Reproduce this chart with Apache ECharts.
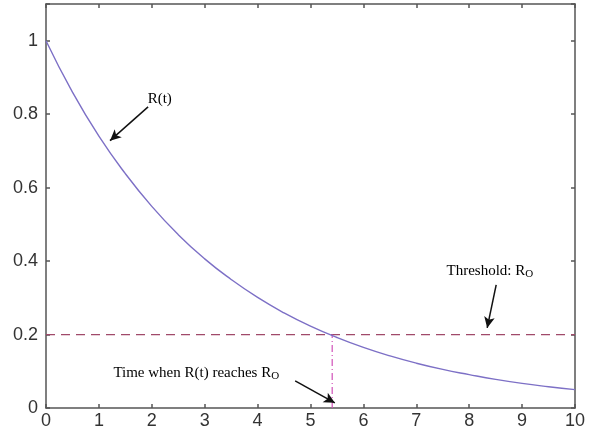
<!DOCTYPE html>
<html>
<head>
<meta charset="utf-8">
<script src="https://cdn.jsdelivr.net/npm/echarts@6/dist/echarts.min.js"></script>
<style>html,body{margin:0;padding:0;background:#fff}#c{width:590px;height:438px}</style>
</head>
<body>
<div id="c"></div>
<script>
// Values
var tValues = [0, 0.5, 1, 1.5, 2, 2.5, 3, 3.5, 4, 4.5, 5, 5.5, 6, 6.5, 7, 7.5, 8, 8.5, 9, 9.5, 10];
var rValues = [1, 0.86, 0.74, 0.638, 0.549, 0.472, 0.406, 0.35, 0.301, 0.259, 0.223, 0.192, 0.165, 0.142, 0.122, 0.105, 0.091, 0.078, 0.067, 0.058, 0.05];
var threshold = 0.2;
var crossTime = 5.41;
var xTicks = [0,1,2,3,4,5,6,7,8,9,10];
var yTicks = [0,0.2,0.4,0.6,0.8,1];

var curve = tValues.map(function (t, i) { return [t, rValues[i]]; });

var chart = echarts.init(document.getElementById('c'));
var axisLine = {show: true, onZero: false, lineStyle: {color: '#555', width: 1.5}};
var tick = {show: true, inside: true, length: 4, lineStyle: {color: '#555', width: 1.5}};
var lblFont = {fontFamily: 'Liberation Sans', fontSize: 18, color: '#333'};
var serif = 'Liberation Serif';
var arrowLine = {color: '#111', width: 1.5, type: 'solid'};

function arrow(x1, y1, x2, y2) {
  return [{coord: [x1, y1]}, {coord: [x2, y2]}];
}

chart.setOption({
  animation: false,
  grid: {left: 46, top: 4, right: 15, bottom: 30, containLabel: false},
  xAxis: [{
    type: 'value', min: 0, max: 10, interval: 1,
    axisLine: axisLine, axisTick: tick, splitLine: {show: false},
    axisLabel: Object.assign({margin: 4}, lblFont)
  }, {
    type: 'value', position: 'top', min: 0, max: 10, interval: 1,
    axisLine: axisLine, axisTick: tick, splitLine: {show: false}, axisLabel: {show: false}
  }],
  yAxis: [{
    type: 'value', min: 0, max: 1.1, interval: 0.2,
    axisLine: axisLine, axisTick: tick, splitLine: {show: false},
    axisLabel: Object.assign({margin: 8, formatter: function (v) { return v > 1.05 ? '' : String(+v.toFixed(1)); }}, lblFont)
  }, {
    type: 'value', position: 'right', min: 0, max: 1.1, interval: 0.2,
    axisLine: axisLine, axisTick: tick, splitLine: {show: false}, axisLabel: {show: false}
  }],
  series: [{
    type: 'line', data: curve, smooth: true, showSymbol: false,
    lineStyle: {color: '#7d70c6', width: 1.4}, z: 3
  }, {
    type: 'line', data: [[0, threshold], [10, threshold]], showSymbol: false,
    lineStyle: {color: '#a04a6a', width: 1.2, type: [9, 6]}, z: 2
  }, {
    type: 'line', data: [[crossTime, 0], [crossTime, threshold]], showSymbol: false,
    lineStyle: {color: '#d050b8', width: 1.2, type: [7, 3, 1, 3]}, z: 2,
    markLine: {
      silent: true, symbol: ['none', 'arrow'], symbolSize: [8, 11],
      label: {show: false}, lineStyle: arrowLine,
      data: [
        arrow(1.93, 0.82, 1.21, 0.728),
        arrow(8.51, 0.335, 8.34, 0.218),
        arrow(4.71, 0.074, 5.46, 0.014)
      ]
    }
  }]
});

function place(t, v) { return chart.convertToPixel({xAxisIndex: 0, yAxisIndex: 0}, [t, v]); }
var rich = {
  a: {fontFamily: serif, fontSize: 15, color: '#111', lineHeight: 18, verticalAlign: 'middle'},
  s: {fontFamily: serif, fontSize: 11, color: '#111', lineHeight: 8, verticalAlign: 'bottom'}
};
var p1 = place(2.15, 0.842), p2 = place(8.39, 0.373), p3 = place(2.84, 0.095);
chart.setOption({
  graphic: [
    {type: 'text', x: p1[0], y: p1[1], style: {text: '{a|R(t)}', rich: rich, align: 'center', verticalAlign: 'middle'}},
    {type: 'text', x: p2[0], y: p2[1], style: {text: '{a|Threshold: R}{s|O}', rich: rich, align: 'center', verticalAlign: 'middle'}},
    {type: 'text', x: p3[0], y: p3[1], style: {text: '{a|Time when R(t) reaches R}{s|O}', rich: rich, align: 'center', verticalAlign: 'middle'}}
  ]
});
</script>
</body>
</html>
